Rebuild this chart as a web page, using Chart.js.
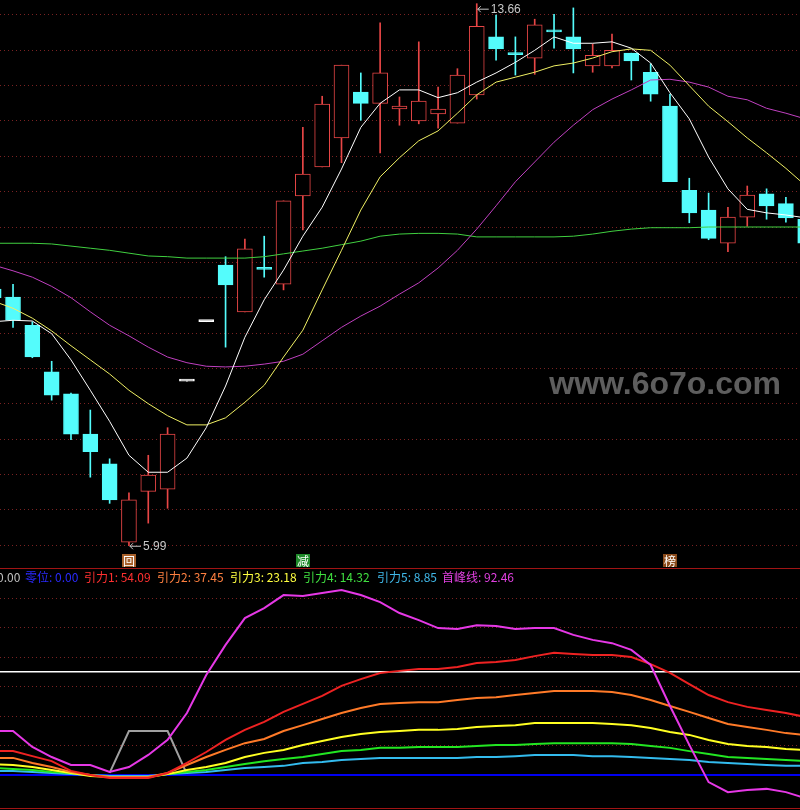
<!DOCTYPE html>
<html>
<head>
<meta charset="utf-8">
<script src="https://cdn.jsdelivr.net/npm/chart.js@4.4.0/dist/chart.umd.min.js"></script>
<style>
  html, body { margin: 0; padding: 0; background: #000; }
  #wrap { position: relative; width: 800px; height: 810px; overflow: hidden; background: #000; }
  canvas { position: absolute; left: 0; }
  #mainChart { top: 0; }
  #subChart { top: 568px; }
</style>
</head>
<body>
<div id="wrap">
  <canvas id="mainChart" width="800" height="568"></canvas>
  <canvas id="subChart" width="800" height="242"></canvas>
</div>
<script>
// bar numbers (the first one is only partly on screen)
var bars = [-1, 0, 1, 2, 3, 4, 5, 6, 7, 8, 9, 10, 11, 12, 13, 14, 15, 16, 17, 18, 19, 20,
  21, 22, 23, 24, 25, 26, 27, 28, 29, 30, 31, 32, 33, 34, 35, 36, 37, 38, 39, 40, 41];

// candles
var open = [9.62, 9.51, 9.11, 8.45, 8.14, 7.57, 7.15, 6.04, 6.76, 6.79, 8.32, 9.16, 9.96, 9.30, 9.92,
  9.69, 10.94, 11.35, 11.76, 12.41, 12.25, 12.17, 12.00, 12.10, 11.97, 12.37, 13.19, 12.96, 12.89,
  13.28, 13.19, 12.78, 12.78, 12.96, 12.69, 12.21, 11.02, 10.74, 10.27, 10.64, 10.97, 10.83, 10.61];
var high = [9.70, 9.69, 9.16, 8.60, 8.15, 7.91, 7.22, 6.74, 7.27, 7.66, 8.32, 9.16, 10.08, 10.33, 10.37,
  10.87, 11.91, 12.35, 12.79, 12.68, 13.39, 12.34, 13.12, 12.48, 12.74, 13.66, 13.50, 13.19, 13.44,
  13.51, 13.60, 13.09, 13.23, 12.96, 12.81, 12.38, 11.19, 10.98, 10.78, 11.08, 11.04, 10.92, 10.63];
var low = [9.45, 9.08, 8.65, 8.05, 7.49, 6.96, 6.59, 5.99, 6.31, 6.52, 8.32, 9.16, 8.80, 9.30, 9.79,
  9.61, 10.46, 11.35, 11.41, 12.01, 11.55, 11.94, 11.96, 11.90, 11.97, 12.31, 12.86, 12.65, 12.66,
  13.03, 12.68, 12.69, 12.75, 12.58, 12.28, 11.14, 10.56, 10.32, 10.15, 10.51, 10.61, 10.57, 10.24];
var close = [9.50, 9.18, 8.66, 8.12, 7.57, 7.32, 6.64, 6.64, 6.99, 7.57, 8.32, 9.16, 9.68, 10.19, 9.90,
  10.87, 11.25, 12.24, 12.79, 12.25, 12.68, 12.21, 12.28, 12.17, 12.65, 13.34, 13.02, 12.94, 13.36,
  13.26, 13.02, 12.93, 13.00, 12.85, 12.38, 11.14, 10.70, 10.34, 10.64, 10.95, 10.80, 10.63, 10.27];

// moving averages
var ma5 = [9.16, 9.18, 9.17, 8.99, 8.62, 8.19, 7.75, 7.27, 7.03, 7.03, 7.23, 7.66, 8.25, 8.94, 9.47,
  9.89, 10.37, 10.78, 11.32, 11.91, 12.25, 12.44, 12.44, 12.33, 12.40, 12.55, 12.68, 12.83, 13.00,
  13.19, 13.10, 13.10, 13.12, 13.03, 12.82, 12.40, 12.03, 11.49, 11.04, 10.75, 10.70, 10.67, 10.63];
var ma10 = [9.45, 9.35, 9.21, 9.03, 8.82, 8.62, 8.42, 8.19, 8.00, 7.83, 7.70, 7.70, 7.80, 8.02, 8.26,
  8.66, 9.04, 9.61, 10.17, 10.74, 11.21, 11.48, 11.72, 11.86, 12.11, 12.37, 12.55, 12.62, 12.69,
  12.78, 12.82, 12.89, 12.98, 13.02, 13.00, 12.79, 12.50, 12.21, 11.99, 11.76, 11.55, 11.33, 11.09];
var ma30 = [9.96, 9.88, 9.79, 9.66, 9.50, 9.30, 9.11, 8.96, 8.80, 8.66, 8.58, 8.53, 8.52, 8.53, 8.56,
  8.60, 8.70, 8.89, 9.08, 9.24, 9.38, 9.55, 9.71, 9.92, 10.17, 10.47, 10.80, 11.14, 11.42,
  11.70, 11.94, 12.16, 12.31, 12.44, 12.58, 12.59, 12.55, 12.48, 12.35, 12.30, 12.18, 12.11, 12.03];
var ma60 = [10.27, 10.27, 10.27, 10.26, 10.23, 10.20, 10.17, 10.13, 10.09, 10.08, 10.06, 10.06, 10.06,
  10.06, 10.08, 10.12, 10.16, 10.20, 10.25, 10.30, 10.37, 10.40, 10.41, 10.41, 10.40, 10.36, 10.36,
  10.36, 10.36, 10.36, 10.37, 10.40, 10.44, 10.47, 10.49, 10.49, 10.49, 10.50, 10.50, 10.50, 10.50,
  10.50, 10.50];
var priceTicks = [6, 6.5, 7, 7.5, 8, 8.5, 9, 9.5, 10, 10.5, 11, 11.5, 12, 12.5, 13, 13.5];

// event marks under the candles
var markBars = [6, 15, 34];
var markText = ['回', '减', '榜'];

// lower indicator
var pull1 = [8.1, 8.1, 6.4, 4.7, 1.4, 0, -1.0, -1.0, -1.0, 0.7, 4.1, 7.8, 11.9, 15.3, 18.0, 21.4, 24.1,
  26.8, 30.2, 32.5, 34.6, 35.3, 35.9, 35.9, 36.6, 38.0, 38.3, 39.0, 40.3, 41.4, 41.0, 40.7, 40.7,
  40.0, 37.6, 34.6, 30.8, 27.1, 24.7, 23.1, 22.0, 21.0, 19.7];
var pull2 = [5.8, 5.8, 4.1, 2.7, 1.0, 0, -0.7, -0.7, -0.7, 0.7, 3.4, 6.1, 8.5, 10.8, 12.2, 14.9, 16.9,
  19.0, 21.0, 22.7, 24.1, 24.4, 24.7, 24.7, 25.4, 26.1, 26.4, 27.1, 27.8, 28.5, 28.5, 28.5, 28.1,
  27.1, 25.4, 23.4, 21.4, 19.3, 17.3, 16.3, 15.3, 14.2, 13.6];
var pull3 = [3.7, 3.4, 2.7, 1.7, 0.7, -0.3, -0.7, -0.7, -0.7, 0.3, 1.7, 2.7, 4.1, 6.1, 7.5, 8.5, 10.2,
  11.5, 12.9, 13.9, 14.6, 14.9, 15.3, 15.3, 15.6, 16.3, 16.6, 16.9, 17.6, 17.6, 17.6, 17.6, 17.3,
  16.9, 15.9, 14.6, 13.6, 11.9, 10.5, 9.8, 9.5, 8.8, 8.5];
var pull4 = [2.4, 2.0, 1.7, 1.0, 0.7, 0, -0.7, -0.7, -0.7, 0.3, 1.0, 1.7, 2.7, 3.7, 4.7, 5.4, 6.1,
  7.1, 8.1, 8.5, 9.2, 9.2, 9.5, 9.5, 9.5, 9.8, 10.2, 10.2, 10.5, 10.8, 10.8, 10.8, 10.8,
  10.5, 9.8, 9.2, 8.1, 7.1, 6.1, 5.8, 5.4, 5.1, 4.7];
var pull5 = [1.4, 1.4, 1.0, 0.7, 0.3, 0, -0.3, -0.3, -0.3, 0.3, 0.7, 1.0, 1.7, 2.4, 2.7, 3.1, 4.1,
  4.4, 5.1, 5.4, 5.8, 5.8, 5.8, 5.8, 5.8, 6.1, 6.1, 6.4, 6.8, 6.8, 6.8, 6.4, 6.4,
  6.1, 5.8, 5.4, 5.1, 4.4, 4.1, 3.7, 3.4, 3.1, 3.1];
var firstPeak = [14.9, 14.9, 9.5, 6.1, 3.4, 3.4, 1.0, 2.7, 6.8, 11.9, 21.0, 33.9, 44.1, 53.2, 56.6,
  61.0, 60.7, 61.7, 62.7, 61.0, 58.6, 54.9, 52.5, 49.8, 49.5, 50.8, 50.5, 49.5, 49.8, 49.8, 47.5,
  45.8, 44.7, 42.4, 37.3, 23.4, 10.2, -2.4, -5.8, -5.1, -4.7, -5.8, -7.8];
var band = [null, null, null, null, null, null, 0.7, 14.9, 14.9, 14.9, 0.3, null, null, null, null,
  null, null, null, null, null, null, null, null, null, null, null, null, null, null, null, null,
  null, null, null, null, null, null, null, null, null, null, null, null];
var zeroLevel = 0;
var refLevel = 35;
var subTicks = [10, 20, 30, 40, 50, 60];
var subLabels = ['0.00', '零位: 0.00', '引力1: 54.09', '引力2: 37.45', '引力3: 23.18',
  '引力4: 14.32', '引力5: 8.85', '首峰线: 92.46'];

// ---- styles ----
var UP = '#e84646';
var DOWN = '#54fcfc';
var GRID = '#7a2222';
var subLabelColors = ['#c0c0c0', '#2a2aff', '#ff3030', '#ff8040', '#ffff40', '#40e040', '#40b8e8', '#e040e0'];
var subLabelX = [-3, 25, 84, 157, 230, 303, 377, 442];
var markColors = ['#a8602a', '#1f8a2a', '#8a4a1a'];
var X_MIN = -0.674, X_MAX = 40.73;

function candleColor(i) {
  if (close[i] > open[i]) return UP;
  if (close[i] < open[i]) return DOWN;
  return '#ffffff';
}
function pts(arr) {
  return bars.map(function (b, i) { return { x: b, y: arr[i] }; });
}
function lineSet(arr, color, width, order) {
  return {
    type: 'line', data: pts(arr), borderColor: color, borderWidth: width,
    pointRadius: 0, tension: 0, order: order, clip: 0, spanGaps: false
  };
}
function fixedTicks(list) {
  return function (scale) { scale.ticks = list.map(function (v) { return { value: v }; }); };
}

function arrowLabel(c, x, y, text) {
  c.strokeStyle = '#c8c8c8';
  c.lineWidth = 1;
  c.beginPath();
  c.moveTo(x + 1, y + 0.5); c.lineTo(x + 12, y + 0.5);
  c.moveTo(x + 1, y + 0.5); c.lineTo(x + 4, y - 2.5);
  c.moveTo(x + 1, y + 0.5); c.lineTo(x + 4, y + 3.5);
  c.stroke();
  c.fillStyle = '#c8c8c8';
  c.font = '12px "Liberation Sans"';
  c.textAlign = 'left';
  c.textBaseline = 'middle';
  c.fillText(text, x + 14, y + 1);
}

var mainDecor = {
  id: 'mainDecor',
  beforeDatasetsDraw: function (chart) {
    var c = chart.ctx;
    c.save();
    c.font = 'bold 32px "Liberation Sans"';
    c.fillStyle = '#5e5e5e';
    c.textAlign = 'right';
    c.textBaseline = 'alphabetic';
    c.fillText('www.6o7o.com', 781, 394);
    c.restore();
  },
  afterDatasetsDraw: function (chart) {
    var c = chart.ctx, xs = chart.scales.x, ys = chart.scales.y, area = chart.chartArea;
    c.save();
    var hi = 0, lo = 0;
    for (var i = 1; i < bars.length; i++) {
      if (high[i] > high[hi]) hi = i;
      if (low[i] < low[lo]) lo = i;
    }
    arrowLabel(c, xs.getPixelForValue(bars[hi]), ys.getPixelForValue(high[hi]) + 5, high[hi].toFixed(2));
    arrowLabel(c, xs.getPixelForValue(bars[lo]), ys.getPixelForValue(low[lo]), low[lo].toFixed(2));

    c.font = '12px "Noto Sans CJK SC"';
    c.textAlign = 'center';
    c.textBaseline = 'middle';
    for (var k = 0; k < markBars.length; k++) {
      var mx = Math.round(xs.getPixelForValue(markBars[k]));
      var my = area.bottom - 7;
      c.fillStyle = markColors[k];
      c.fillRect(mx - 7, my - 7, 14, 13);
      c.fillStyle = '#ffffff';
      c.fillText(markText[k], mx, my);
    }
    c.restore();
  }
};

var subDecor = {
  id: 'subDecor',
  afterDraw: function (chart) {
    var c = chart.ctx, area = chart.chartArea;
    c.save();
    c.strokeStyle = '#a01414';
    c.lineWidth = 1;
    c.beginPath();
    c.moveTo(area.left, area.top + 0.5); c.lineTo(area.right, area.top + 0.5);
    c.moveTo(area.left, area.bottom - 1.5); c.lineTo(area.right, area.bottom - 1.5);
    c.stroke();
    c.font = '12px "Noto Sans CJK SC"';
    c.textAlign = 'left';
    c.textBaseline = 'middle';
    for (var i = 0; i < subLabels.length; i++) {
      c.fillStyle = subLabelColors[i];
      c.fillText(subLabels[i], subLabelX[i], area.top + 9);
    }
    c.restore();
  }
};

var baseOptions = function (yMin, yMax, ticks) {
  return {
    responsive: false,
    animation: false,
    devicePixelRatio: 1,
    events: [],
    layout: { padding: 0 },
    plugins: { legend: { display: false }, tooltip: { enabled: false } },
    scales: {
      x: { type: 'linear', min: X_MIN, max: X_MAX, offset: false, display: false },
      y: {
        min: yMin, max: yMax,
        afterBuildTicks: fixedTicks(ticks),
        ticks: { display: false },
        grid: { color: GRID, lineWidth: 1, drawTicks: false },
        border: { display: false, dash: [1, 3] }
      }
    }
  };
};

var ctx = document.getElementById('mainChart').getContext('2d');
var ctx2 = document.getElementById('subChart').getContext('2d');

var chart = new Chart(ctx, {
  type: 'bar',
  data: {
    datasets: [
      lineSet(ma5, '#ffffff', 1, 0),
      lineSet(ma10, '#f0f064', 1, 0),
      lineSet(ma30, '#c040c0', 1, 0),
      lineSet(ma60, '#40d040', 1, 0),
      {
        // candle bodies
        type: 'bar',
        data: bars.map(function (b, i) { return { x: b, y: [open[i], close[i]] }; }),
        backgroundColor: bars.map(function (b, i) { return close[i] > open[i] ? '#000000' : candleColor(i); }),
        borderColor: bars.map(function (b, i) { return candleColor(i); }),
        borderWidth: 1,
        borderSkipped: false,
        barThickness: 15,
        minBarLength: 2,
        grouped: false,
        order: 1,
        clip: 0
      },
      {
        // wicks
        type: 'bar',
        data: bars.map(function (b, i) { return { x: b, y: [low[i], high[i]] }; }),
        backgroundColor: bars.map(function (b, i) { return candleColor(i); }),
        borderWidth: 0,
        barThickness: 1,
        grouped: false,
        order: 2,
        clip: 0
      }
    ]
  },
  options: baseOptions(5.675, 13.712, priceTicks),
  plugins: [mainDecor]
});

var chart2 = new Chart(ctx2, {
  type: 'line',
  data: {
    datasets: [
      lineSet(firstPeak, '#e638e6', 2, 1),
      lineSet(pull1, '#ee2222', 2, 2),
      lineSet(pull2, '#ff7a28', 2, 3),
      lineSet(pull3, '#ffff22', 2, 4),
      lineSet(pull4, '#22e622', 2, 5),
      lineSet(pull5, '#33bbee', 2, 6),
      {
        type: 'line',
        data: [{ x: X_MIN, y: zeroLevel }, { x: X_MAX, y: zeroLevel }],
        borderColor: '#0000f0', borderWidth: 2, pointRadius: 0, order: 7, clip: 0
      },
      {
        type: 'line',
        data: [{ x: X_MIN, y: refLevel }, { x: X_MAX, y: refLevel }],
        borderColor: '#ffffff', borderWidth: 1.5, pointRadius: 0, order: 8, clip: 0
      },
      lineSet(band, '#a0a0a0', 2, 9)
    ]
  },
  options: baseOptions(-11.86, 70.17, subTicks),
  plugins: [subDecor]
});
</script>
</body>
</html>
